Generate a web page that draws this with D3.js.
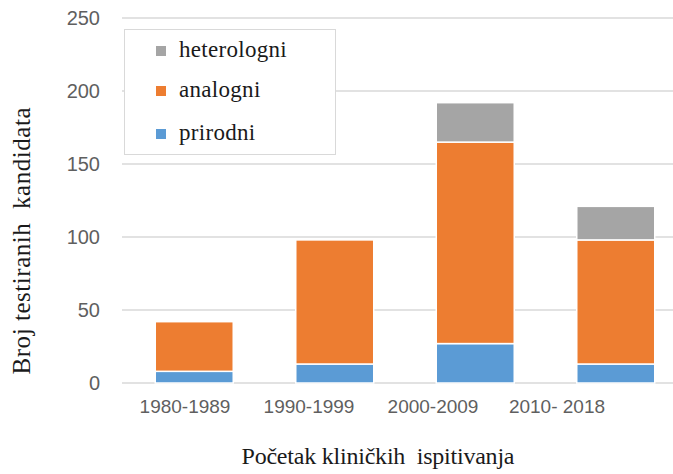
<!DOCTYPE html>
<html><head><meta charset="utf-8">
<script src="https://cdn.jsdelivr.net/npm/d3@7/dist/d3.min.js"></script>
<style>html,body{margin:0;padding:0;background:#fff;}svg{display:block;}</style>
</head><body>
<script>
const categories = ["1980-1989", "1990-1999", "2000-2009", "2010- 2018"];
const prirodni = [8, 13, 27, 13];
const analogni = [34, 85, 138, 85];
const heterologni = [0, 0, 27, 23];
const yTicks = [0, 50, 100, 150, 200, 250];
const seriesNames = ["prirodni", "analogni", "heterologni"];
const colors = {prirodni: "#5b9bd5", analogni: "#ed7d31", heterologni: "#a5a5a5"};

const W = 673, H = 474;
const svg = d3.select("body").append("svg").attr("width", W).attr("height", H);

const rows = categories.map((c, i) => ({cat: c, prirodni: prirodni[i], analogni: analogni[i], heterologni: heterologni[i]}));
const stack = d3.stack().keys(seriesNames)(rows);

const x = d3.scaleBand().domain(categories).range([124, 686]).paddingInner(0.445).paddingOuter(0.2225);
const xLabel = d3.scalePoint().domain(categories).range([185, 557]);
const y = d3.scaleLinear().domain([0, 250]).range([383, 18]);

// gridlines
svg.append("g").selectAll("line").data(yTicks).join("line")
  .attr("x1", 122).attr("x2", W).attr("y1", d => y(d)).attr("y2", d => y(d))
  .attr("stroke", "#d9d9d9").attr("stroke-width", 1.5);

// y tick labels
svg.append("g").selectAll("text").data(yTicks).join("text")
  .attr("x", 100).attr("y", d => y(d)).attr("dy", "0.34em")
  .attr("text-anchor", "end").attr("font-family", "Liberation Sans, Arial, sans-serif")
  .attr("font-size", 20).attr("fill", "#5f5f5f").text(d => d);

// bars
svg.append("g").selectAll("g").data(stack).join("g")
  .attr("fill", d => colors[d.key])
  .selectAll("rect").data(d => d.filter(s => s[1] > s[0])).join("rect")
  .attr("x", d => x(d.data.cat)).attr("width", x.bandwidth())
  .attr("y", d => y(d[1])).attr("height", d => y(d[0]) - y(d[1]))
  .attr("stroke", "#fff").attr("stroke-width", 1.5);

// x labels
svg.append("g").selectAll("text").data(categories).join("text")
  .attr("x", d => xLabel(d)).attr("y", 413).attr("text-anchor", "middle")
  .attr("font-family", "Liberation Sans, Arial, sans-serif").attr("font-size", 19)
  .attr("fill", "#5f5f5f").attr("xml:space", "preserve").text(d => d);

// legend
const lg = svg.append("g");
lg.append("rect").attr("x", 124.5).attr("y", 29.5).attr("width", 211).attr("height", 125)
  .attr("fill", "#fff").attr("stroke", "#d9d9d9").attr("stroke-width", 1);
const legendItems = ["heterologni", "analogni", "prirodni"];
const legendBase = [57, 97, 140];
legendItems.forEach((k, i) => {
  lg.append("rect").attr("x", 156).attr("y", legendBase[i] - 11).attr("width", 10).attr("height", 10).attr("fill", colors[k]);
  lg.append("text").attr("x", 179).attr("y", legendBase[i])
    .attr("font-family", "Liberation Serif, Times New Roman, serif").attr("font-size", 23)
    .attr("letter-spacing", 0.3).attr("fill", "#1a1a1a").text(k);
});

// axis titles
svg.append("text").attr("transform", "translate(30,241) rotate(-90)")
  .attr("text-anchor", "middle").attr("font-family", "Liberation Serif, Times New Roman, serif")
  .attr("font-size", 25).attr("fill", "#1a1a1a").attr("textLength", 267).attr("lengthAdjust", "spacing")
  .attr("xml:space", "preserve").text("Broj testiranih  kandidata");
svg.append("text").attr("x", 378).attr("y", 464)
  .attr("text-anchor", "middle").attr("font-family", "Liberation Serif, Times New Roman, serif")
  .attr("font-size", 24).attr("fill", "#1a1a1a").attr("textLength", 273).attr("lengthAdjust", "spacing")
  .attr("xml:space", "preserve").text("Početak kliničkih  ispitivanja");
</script>
</body></html>
